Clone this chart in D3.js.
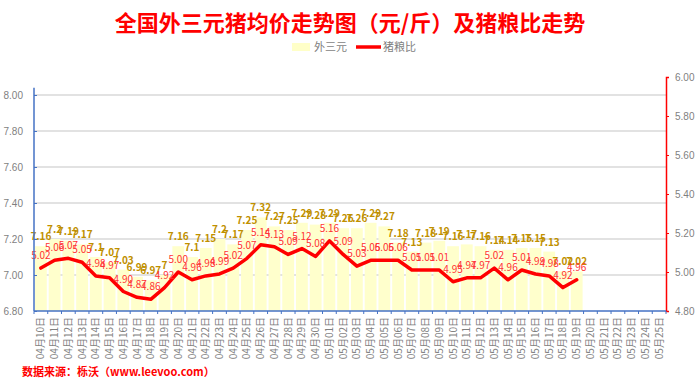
<!DOCTYPE html>
<html>
<head>
<meta charset="utf-8">
<script src="https://cdn.jsdelivr.net/npm/d3@7/dist/d3.min.js"></script>
<style>
  body { margin: 0; background: #fff; }
  svg { font-family: "Noto Sans CJK SC", "Liberation Sans", sans-serif; }
</style>
</head>
<body>
<svg id="chart" width="700" height="388"></svg>
<script>
//*************** data ******************//

// x categories: 04月10日 .. 05月25日
var dates = [];
d3.range(10, 31).forEach(function(d) { dates.push("04月" + d3.format("02")(d) + "日"); });
d3.range(1, 26).forEach(function(d) { dates.push("05月" + d3.format("02")(d) + "日"); });

// 外三元 price (元/斤), 04-10 .. 05-19
var priceValues = [7.16, 7.2, 7.19, 7.17, 7.1, 7.07, 7.03, 6.99, 6.97, 7,
                   7.16, 7.1, 7.15, 7.2, 7.17, 7.25, 7.32, 7.27, 7.25, 7.29,
                   7.28, 7.29, 7.26, 7.26, 7.29, 7.27, 7.18, 7.13, 7.18, 7.19,
                   7.16, 7.17, 7.16, 7.14, 7.14, 7.15, 7.15, 7.13, 7.02, 7.02];

// 猪粮比, 04-10 .. 05-19
var ratioValues = [5.02, 5.06, 5.07, 5.05, 4.98, 4.97, 4.90, 4.87, 4.86, 4.92,
                   5.00, 4.96, 4.98, 4.99, 5.02, 5.07, 5.14, 5.13, 5.09, 5.12,
                   5.08, 5.16, 5.09, 5.03, 5.06, 5.06, 5.06, 5.01, 5.01, 5.01,
                   4.95, 4.97, 4.97, 5.02, 4.96, 5.01, 4.99, 4.98, 4.92, 4.96];

var leftTicks = [6.8, 7.0, 7.2, 7.4, 7.6, 7.8, 8.0];
var rightTicks = [4.8, 5.0, 5.2, 5.4, 5.6, 5.8, 6.0];

//*************** initialise ******************//

var margin = {top: 77, right: 34, bottom: 77, left: 34};
var width = 700 - margin.left - margin.right,
    height = 388 - margin.top - margin.bottom;

var svg = d3.select("svg#chart");

var xScale = d3.scaleBand().domain(dates).range([0, width]).paddingInner(0.14).paddingOuter(0.07);
var yLeft = d3.scaleLinear().domain([6.8, 8.1]).range([height, 0]);
var yRight = d3.scaleLinear().domain([4.8, 6.0]).range([height, 0]);

var plot = svg.append("g")
.attr("transform", "translate(" + margin.left + "," + margin.top + ")");

// title
svg.append("text")
.attr("x", 350)
.attr("y", 31)
.attr("text-anchor", "middle")
.attr("font-size", "22px")
.attr("font-weight", "bold")
.attr("fill", "#ff0000")
.text("全国外三元猪均价走势图（元/斤）及猪粮比走势");

// legend
var legend = svg.append("g").attr("transform", "translate(292,47)");
legend.append("rect").attr("x", 0).attr("y", -4).attr("width", 18).attr("height", 8).attr("fill", "#ffffc8");
legend.append("text").attr("x", 22).attr("y", 4).attr("font-size", "11px").attr("fill", "#7f7f7f").text("外三元");
legend.append("line").attr("x1", 64).attr("x2", 89).attr("y1", 0).attr("y2", 0)
.attr("stroke", "#ff0000").attr("stroke-width", 3.5);
legend.append("text").attr("x", 91).attr("y", 4).attr("font-size", "11px").attr("fill", "#7f7f7f").text("猪粮比");

// gridlines
plot.append("g")
.selectAll("line")
.data(leftTicks.slice(1))
.enter().append("line")
.attr("x1", 0).attr("x2", width)
.attr("y1", function(d) { return yLeft(d); })
.attr("y2", function(d) { return yLeft(d); })
.attr("stroke", "#d9d9d9")
.attr("stroke-width", 1.5);

// bars
plot.append("g")
.selectAll("rect")
.data(priceValues)
.enter().append("rect")
.attr("x", function(d, i) { return xScale(dates[i]); })
.attr("width", xScale.bandwidth())
.attr("y", function(d) { return yLeft(d); })
.attr("height", function(d) { return height - yLeft(d); })
.attr("fill", "#ffffcc");

// line
var line = d3.line()
.x(function(d, i) { return xScale(dates[i]) + xScale.bandwidth() / 2; })
.y(function(d) { return yRight(d); });

plot.append("path")
.datum(ratioValues)
.attr("fill", "none")
.attr("stroke", "#ff0000")
.attr("stroke-width", 3.5)
.attr("stroke-linejoin", "round")
.attr("stroke-linecap", "round")
.attr("d", line);

// bar labels
plot.append("g")
.selectAll("text")
.data(priceValues)
.enter().append("text")
.attr("x", function(d, i) { return xScale(dates[i]) + xScale.bandwidth() / 2; })
.attr("y", function(d) { return yLeft(d) - 6; })
.attr("text-anchor", "middle")
.attr("font-size", "10px")
.attr("font-weight", "bold")
.attr("fill", "#bf9000")
.text(function(d) { return String(d); });

// ratio labels
plot.append("g")
.selectAll("text")
.data(ratioValues)
.enter().append("text")
.attr("x", function(d, i) { return xScale(dates[i]) + xScale.bandwidth() / 2; })
.attr("y", function(d) { return yRight(d) - 9; })
.attr("text-anchor", "middle")
.attr("font-size", "10px")
.attr("fill", "#ff3333")
.text(function(d) { return d.toFixed(2); });

//*************** axes ******************//

// left axis
var yAxisLeft = plot.append("g")
.call(d3.axisLeft(yLeft).tickValues(leftTicks).tickFormat(d3.format(".2f")).tickSize(0).tickPadding(11));
yAxisLeft.select(".domain").remove();
yAxisLeft.selectAll("text").attr("fill", "#7f7f7f").attr("font-size", "10px").attr("font-family", "Liberation Sans, sans-serif");
yAxisLeft.append("line")
.attr("x1", 0).attr("x2", 0)
.attr("y1", yLeft(8.04)).attr("y2", height)
.attr("stroke", "#4472c4").attr("stroke-width", 1.5);
yAxisLeft.selectAll(".tick").append("line")
.attr("x1", 0).attr("x2", 3)
.attr("stroke", "#4472c4");

// right axis
var yAxisRight = plot.append("g")
.attr("transform", "translate(" + width + ",0)")
.call(d3.axisRight(yRight).tickValues(rightTicks).tickFormat(d3.format(".2f")).tickSize(3).tickPadding(6));
yAxisRight.select(".domain").attr("stroke", "#ff0000").attr("stroke-width", 1.5);
yAxisRight.selectAll(".tick line").attr("stroke", "#ff0000");
yAxisRight.selectAll("text").attr("fill", "#7f7f7f").attr("font-size", "10px").attr("font-family", "Liberation Sans, sans-serif");

// x axis
var xAxis = plot.append("g")
.attr("transform", "translate(0," + height + ")");
xAxis.append("line")
.attr("x1", 0).attr("x2", width)
.attr("stroke", "#4472c4").attr("stroke-width", 1.5);
xAxis.selectAll("line.tk")
.data(d3.range(dates.length + 1))
.enter().append("line")
.attr("class", "tk")
.attr("x1", function(i) { return i * width / dates.length; })
.attr("x2", function(i) { return i * width / dates.length; })
.attr("y1", 0).attr("y2", 3)
.attr("stroke", "#4472c4");
xAxis.selectAll("text")
.data(dates)
.enter().append("text")
.attr("transform", function(d) { return "translate(" + (xScale(d) + xScale.bandwidth() / 2) + ",6) rotate(-90)"; })
.attr("text-anchor", "end")
.attr("dy", "0.35em")
.attr("font-size", "10px")
.attr("fill", "#7f7f7f")
.text(function(d) { return d; });

// source
svg.append("text")
.attr("x", 22)
.attr("y", 376)
.attr("font-size", "11px")
.attr("font-weight", "bold")
.attr("fill", "#ff0000")
.text("数据来源：栎沃（www.leevoo.com）");
</script>
</body>
</html>
